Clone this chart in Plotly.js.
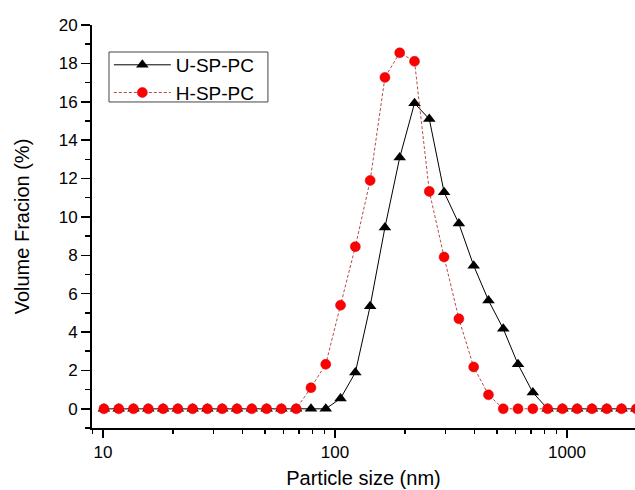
<!DOCTYPE html>
<html>
<head>
<meta charset="utf-8">
<script src="https://cdn.plot.ly/plotly-3.0.1.min.js"></script>
<style>html,body{margin:0;padding:0;background:#fff;}#chart{width:635px;height:490px;}</style>
</head>
<body>
<div id="chart"></div>
<script>
var sizes = [10.1, 11.7, 13.54, 15.69, 18.17, 21.04, 24.36, 28.21, 32.67, 37.84, 43.82, 50.75, 58.77, 68.06, 78.82, 91.28, 105.7, 122.4, 141.8, 164.2, 190.1, 220.2, 255.0, 295.3, 342.0, 396.1, 458.7, 531.2, 615.1, 712.4, 825.0, 955.4, 1106, 1281, 1484, 1718, 1990];
var uSPPC = [0,0,0,0,0,0,0,0,0,0,0,0,0,0, 0, 0, 0.54, 1.89, 5.35, 9.45, 13.09, 15.92, 15.1, 11.29, 9.65, 7.46, 5.65, 4.17, 2.32, 0.85, 0,0,0,0,0,0,0];
var hSPPC = [0,0,0,0,0,0,0,0,0,0,0,0,0,0, 1.1, 2.32, 5.4, 8.45, 11.9, 17.27, 18.55, 18.11, 11.33, 7.91, 4.69, 2.18, 0.73, 0,0,0,0,0,0,0,0,0,0];
var seriesNames = ['U-SP-PC', 'H-SP-PC'];

var font = 'Liberation Sans, Arial, sans-serif';
var traces = [
  {x: sizes, y: uSPPC, name: seriesNames[0], type: 'scatter', mode: 'lines+markers',
   line: {color: '#000000', width: 1},
   marker: {symbol: 'triangle-up', size: 11, color: '#000000'}},
  {x: sizes, y: hSPPC, name: seriesNames[1], type: 'scatter', mode: 'lines+markers',
   line: {color: '#b84a4a', width: 1, dash: '3px,2px'},
   marker: {symbol: 'circle', size: 10, color: '#ff0000', line: {color: '#d00000', width: 0.5}}}
];
var layout = {
  width: 635, height: 490,
  margin: {l: 92, r: 0, t: 25, b: 62},
  paper_bgcolor: '#ffffff', plot_bgcolor: '#ffffff',
  font: {family: font, size: 17, color: '#000'},
  showlegend: true,
  legend: {x: 0.031, y: 0.948, xanchor: 'left', yanchor: 'top', bgcolor: 'rgba(0,0,0,0)',
           borderwidth: 0, font: {family: font, size: 19, color: '#000'},
           tracegroupgap: 0, itemwidth: 57},
  shapes: [{type: 'rect', xref: 'paper', yref: 'paper', x0: 0.0313, x1: 0.324, y0: 0.809, y1: 0.933,
            line: {color: '#444', width: 1}, fillcolor: 'rgba(0,0,0,0)', layer: 'below'}],
  xaxis: {type: 'log', range: [0.953, 3.293], showline: true, linecolor: '#000', linewidth: 2,
          showgrid: false, zeroline: false, ticks: 'outside', ticklen: 8, tickwidth: 1.5, tickcolor: '#000',
          tickvals: [10, 100, 1000], ticktext: ['10', '100', '1000'],
          minor: {dtick: 'D1', ticks: 'outside', ticklen: 4, tickwidth: 1.5, tickcolor: '#000', showgrid: false},
          tickfont: {family: font, size: 17},
          title: {text: 'Particle size (nm)', font: {family: font, size: 20}, standoff: 10}},
  yaxis: {range: [-1, 20], showline: true, linecolor: '#000', linewidth: 2,
          showgrid: false, zeroline: false, ticks: 'outside', ticklen: 9, tickwidth: 1.5, tickcolor: '#000',
          dtick: 2, tick0: 0,
          minor: {dtick: 1, ticks: 'outside', ticklen: 5, tickwidth: 1.5, tickcolor: '#000', showgrid: false},
          tickfont: {family: font, size: 17},
          title: {text: 'Volume Fracion (%)', font: {family: font, size: 20}, standoff: 24}}
};
Plotly.newPlot('chart', traces, layout, {displayModeBar: false, staticPlot: true});
</script>
</body>
</html>
